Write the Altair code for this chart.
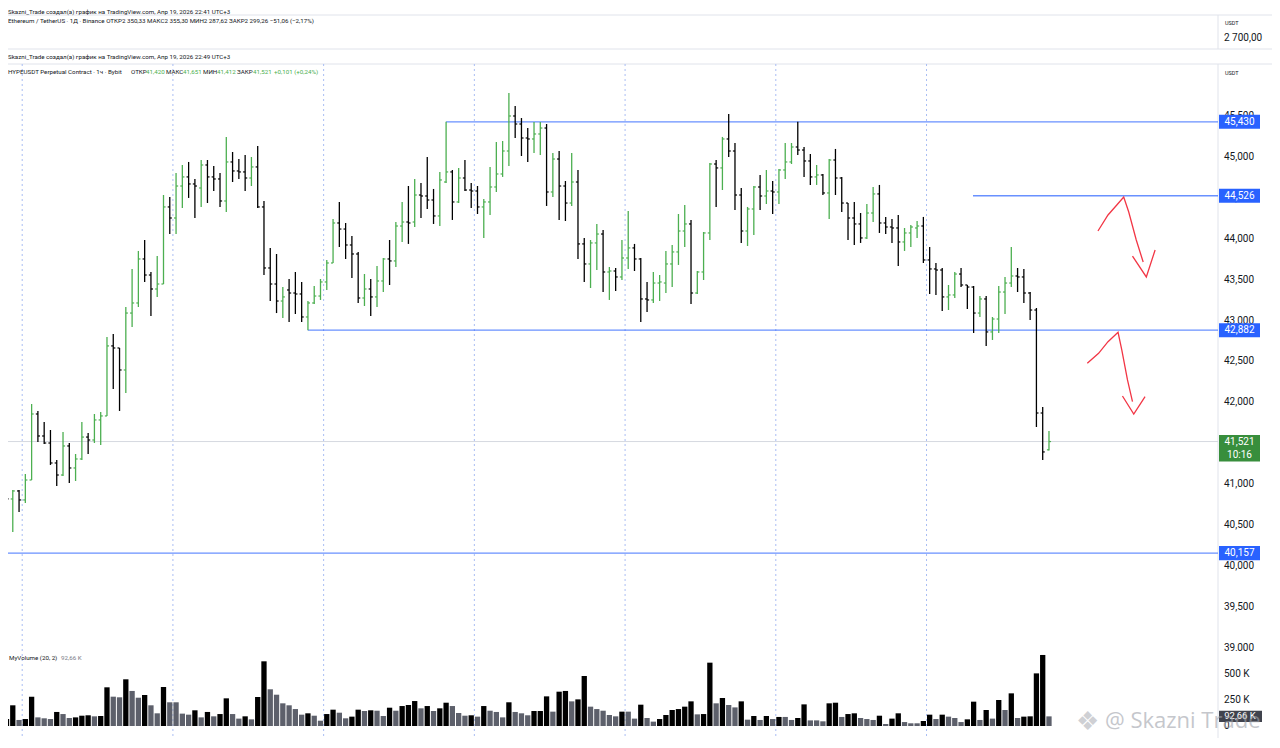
import altair as alt
import pandas as pd

# ---------------- data ----------------
opens = [41.075, 40.819, 40.917, 40.807, 41.051, 41.858, 41.589, 41.503, 41.259, 41.112,
         41.467, 41.198, 41.308, 41.576, 41.540, 41.785, 41.834, 42.690, 42.665, 42.396,
         43.092, 43.215, 43.753, 43.557, 43.386, 43.447, 44.389, 44.254, 44.645, 44.756,
         44.670, 44.621, 44.902, 44.756, 44.731, 44.462, 44.939, 44.829, 44.817, 44.743,
         44.878, 44.389, 43.643, 43.447, 43.239, 43.374, 43.337, 43.325, 43.044, 43.215,
         43.300, 43.472, 43.704, 44.193, 44.119, 43.924, 43.814, 43.276, 43.386, 43.289,
         43.484, 43.753, 43.729, 44.156, 44.205, 44.205, 44.535, 44.523, 44.474, 44.279,
         44.694, 44.817, 44.450, 44.743, 44.596, 44.584, 44.389, 44.450, 44.633, 44.792,
         45.073, 45.501, 45.403, 45.232, 45.220, 45.281, 45.354, 44.572, 44.975, 44.645,
         44.437, 44.694, 43.937, 43.692, 43.949, 44.058, 43.594, 43.606, 43.533, 43.765,
         43.888, 43.753, 43.264, 43.252, 43.459, 43.459, 43.692, 43.839, 44.095, 44.181,
         43.337, 43.594, 44.071, 44.914, 44.866, 45.220, 45.073, 44.535, 44.095, 44.364,
         44.633, 44.523, 44.584, 44.572, 44.841, 44.939, 45.122, 45.085, 44.951, 44.756,
         44.780, 44.560, 44.963, 44.743, 44.437, 44.254, 44.181, 44.010, 44.315, 44.548,
         44.193, 44.144, 44.132, 43.961, 44.071, 44.132, 44.156, 43.741, 43.631, 43.618,
         43.289, 43.313, 43.569, 43.435, 43.410, 43.092, 43.264, 42.861, 43.019, 43.349,
         43.459, 43.545, 43.533, 43.337, 43.129, 41.870, 41.420]
highs = [41.173, 40.929, 40.929, 41.124, 41.980, 41.895, 41.761, 41.662, 41.296, 41.638,
         41.503, 41.369, 41.761, 41.625, 41.858, 41.883, 42.799, 42.836, 42.665, 43.166,
         43.631, 43.851, 43.985, 43.594, 43.790, 44.535, 44.511, 44.804, 44.902, 44.939,
         44.731, 44.963, 44.963, 44.890, 44.804, 45.245, 45.061, 44.975, 45.024, 45.000,
         45.134, 44.462, 43.888, 43.814, 43.410, 43.508, 43.594, 43.472, 43.239, 43.423,
         43.508, 43.741, 44.242, 44.450, 44.193, 44.034, 43.839, 43.569, 43.508, 43.667,
         43.765, 43.985, 44.205, 44.450, 44.645, 44.731, 44.682, 45.000, 44.609, 44.817,
         45.430, 44.841, 44.866, 44.963, 44.682, 44.645, 44.487, 44.878, 45.183, 45.195,
         45.782, 45.623, 45.476, 45.354, 45.427, 45.427, 45.403, 45.049, 45.073, 44.706,
         45.049, 44.841, 44.010, 43.985, 44.181, 44.107, 43.655, 43.643, 43.985, 44.340,
         43.937, 43.765, 43.472, 43.594, 43.557, 43.851, 43.924, 44.303, 44.413, 44.230,
         43.606, 44.083, 44.927, 44.963, 45.245, 45.525, 45.171, 44.621, 44.389, 44.645,
         44.780, 44.841, 44.706, 44.853, 45.171, 45.171, 45.430, 45.122, 45.036, 44.902,
         44.792, 44.975, 45.098, 44.756, 44.437, 44.450, 44.315, 44.425, 44.633, 44.658,
         44.267, 44.242, 44.291, 44.132, 44.168, 44.217, 44.267, 43.900, 43.704, 43.643,
         43.435, 43.594, 43.643, 43.435, 43.423, 43.300, 43.300, 43.044, 43.423, 43.533,
         43.900, 43.643, 43.631, 43.349, 43.154, 41.943, 41.651]
lows = [40.697, 40.416, 40.660, 40.770, 41.051, 41.516, 41.490, 41.235, 40.978, 41.100,
        41.014, 41.039, 41.296, 41.369, 41.503, 41.479, 41.834, 42.164, 41.895, 42.114,
        42.921, 43.166, 43.472, 43.056, 43.289, 43.447, 44.058, 44.058, 44.376, 44.499,
        44.254, 44.389, 44.437, 44.584, 44.389, 44.328, 44.694, 44.731, 44.584, 44.645,
        44.376, 43.557, 43.239, 43.092, 43.031, 42.983, 43.080, 42.983, 42.882, 43.203,
        43.252, 43.374, 43.704, 43.900, 43.753, 43.521, 43.215, 43.178, 43.056, 43.166,
        43.349, 43.435, 43.655, 43.961, 43.937, 44.144, 44.254, 44.364, 44.181, 44.156,
        44.682, 44.230, 44.437, 44.584, 44.376, 44.303, 44.010, 44.291, 44.572, 44.756,
        44.890, 45.232, 45.012, 44.939, 45.049, 45.024, 44.401, 44.511, 44.230, 44.217,
        44.401, 43.753, 43.472, 43.398, 43.618, 43.349, 43.252, 43.362, 43.496, 43.631,
        43.606, 42.983, 43.105, 43.215, 43.239, 43.337, 43.410, 43.680, 43.900, 43.203,
        43.325, 43.496, 43.985, 44.389, 44.596, 45.000, 44.352, 43.949, 43.912, 44.046,
        44.352, 44.425, 44.303, 44.425, 44.731, 44.914, 45.024, 44.756, 44.658, 44.658,
        44.535, 44.242, 44.535, 44.328, 43.985, 43.924, 43.949, 43.998, 44.205, 44.071,
        44.058, 43.949, 43.667, 43.851, 43.900, 44.010, 43.704, 43.325, 43.313, 43.117,
        43.129, 43.276, 43.410, 43.142, 42.848, 43.044, 42.690, 42.763, 42.848, 43.080,
        43.410, 43.349, 43.215, 43.007, 41.699, 41.296, 41.412]
closes = [40.819, 40.917, 40.807, 41.051, 41.858, 41.589, 41.503, 41.259, 41.112, 41.467,
          41.198, 41.308, 41.576, 41.540, 41.785, 41.834, 42.690, 42.665, 42.396, 43.092,
          43.215, 43.753, 43.557, 43.386, 43.447, 44.389, 44.254, 44.645, 44.756, 44.670,
          44.645, 44.902, 44.756, 44.731, 44.462, 44.939, 44.829, 44.817, 44.743, 44.878,
          44.389, 43.643, 43.447, 43.239, 43.289, 43.337, 43.325, 43.044, 43.215, 43.300,
          43.472, 43.704, 44.193, 44.119, 43.924, 43.814, 43.276, 43.386, 43.289, 43.484,
          43.753, 43.729, 44.156, 44.205, 44.193, 44.535, 44.523, 44.474, 44.279, 44.719,
          44.817, 44.450, 44.743, 44.596, 44.584, 44.389, 44.450, 44.633, 44.792, 45.073,
          45.501, 45.403, 45.232, 45.220, 45.281, 45.354, 44.572, 44.975, 44.645, 44.437,
          44.694, 43.937, 43.692, 43.949, 44.058, 43.594, 43.606, 43.533, 43.765, 43.888,
          43.753, 43.264, 43.252, 43.459, 43.472, 43.692, 43.839, 44.095, 44.181, 43.337,
          43.594, 44.071, 44.914, 44.866, 45.220, 45.073, 44.535, 44.095, 44.364, 44.633,
          44.523, 44.584, 44.572, 44.841, 44.939, 45.122, 45.085, 44.951, 44.756, 44.780,
          44.560, 44.963, 44.743, 44.437, 44.254, 44.181, 44.010, 44.315, 44.548, 44.193,
          44.144, 44.132, 43.961, 44.071, 44.144, 44.156, 43.741, 43.631, 43.618, 43.289,
          43.313, 43.569, 43.435, 43.410, 43.092, 43.264, 42.861, 43.019, 43.349, 43.459,
          43.545, 43.533, 43.337, 43.129, 41.870, 41.394, 41.521]
volumes_k = [67, 199, 58, 67, 282, 83, 74, 67, 135, 115,
             77, 83, 99, 103, 93, 96, 372, 282, 276, 449,
             337, 272, 298, 199, 122, 375, 228, 228, 119, 109,
             151, 83, 135, 93, 115, 266, 115, 71, 93, 64,
             279, 622, 353, 301, 218, 199, 163, 109, 122, 99,
             51, 115, 157, 128, 74, 90, 157, 144, 151, 147,
             96, 176, 147, 192, 202, 240, 170, 192, 144, 170,
             224, 192, 125, 99, 103, 90, 192, 147, 135, 83,
             228, 135, 122, 103, 144, 144, 285, 138, 330, 337,
             237, 256, 481, 186, 163, 147, 106, 93, 138, 138,
             71, 205, 77, 42, 67, 106, 154, 163, 186, 237,
             112, 115, 609, 218, 269, 202, 179, 237, 61, 96,
             58, 96, 67, 87, 87, 58, 77, 208, 54, 54,
             45, 218, 224, 87, 115, 122, 77, 67, 58, 99,
             19, 71, 122, 38, 26, 26, 48, 109, 67, 109,
             90, 77, 38, 64, 234, 58, 154, 71, 250, 154,
             314, 77, 90, 93, 506, 683, 92.66]
# k = black (above-average) volume bar, g = grey volume bar
volume_tone = list("kkgkkgggkg" "gkkkgkkggk" "ggkggkgggg" "kgkgkkggkg" "kkggggggkg"
                   "gkkggkkgkg" "gkgkkkgkgk" "kgggkgkggg" "kgggkkkgkk" "gkkgggggkg"
                   "gkggkkkkkk" "gkkgkggkgk" "gkgkggkkgg" "gkkgkkgggk" "gkkgggkkgk"
                   "gggkkgkgkg" "kgkkkkg")

level_prices = [45.430, 44.526, 42.882, 40.157]
level_start_bar = [70.0, 153.9, 48.0, -0.5]
price_ticks = [39.0, 39.5, 40.0, 40.5, 41.0, 41.5, 42.0, 42.5, 43.0, 43.5, 44.0, 44.5, 45.0, 45.5]
volume_ticks = [0, 250, 500]
volume_tick_labels = ["0", "250 K", "500 K"]
session_breaks = [2.5, 26.5, 50.5, 74.5, 98.5, 122.5, 146.5]
last_price = 41.521
last_volume_k = 92.66
countdown = "10:16"

# hand-drawn red arrows (bar index, price)
arrow_stroke = ["a1"] * 7 + ["h1"] * 3 + ["a2"] * 7 + ["h2"] * 3
arrow_bar = [173.8, 175.4, 176.8, 177.9, 178.7, 179.9, 181.0,
             179.3, 181.5, 182.9,
             172.1, 173.9, 175.4, 177.0, 177.6, 178.5, 179.3,
             177.7, 179.5, 181.3]
arrow_price = [44.095, 44.291, 44.413, 44.511, 44.327, 43.985, 43.716,
               43.789, 43.533, 43.863,
               42.478, 42.600, 42.742, 42.857, 42.640, 42.274, 42.008,
               42.078, 41.858, 42.069]

# ---------------- styling / layout ----------------
W, H = 1264, 730
PX_PER_BAR = 6.28
X0 = 0.239
PLOT_R = 1210          # right edge of price pane (price-scale separator)
FONT = "Roboto"
TXT = "#131722"
GREEN = "#4caf50"
DOWN = "#000000"
BLUE = "#2962ff"
VGRAY = "#5d606b"
BORDER = "#e0e3eb"

xs = alt.Scale(domain=[X0, X0 + W / PX_PER_BAR], nice=False, zero=False, padding=0)
ys = alt.Scale(domain=[37.8969, 46.8212], nice=False, zero=False, padding=0)
vs = alt.Scale(domain=[-115.38, 6903.85], nice=False, zero=False, padding=0)


def fmt(v, d=3):
    return f"{v:.{d}f}".replace(".", ",")


n = len(opens)
bars = pd.DataFrame({"bar": list(range(n)), "o": opens, "h": highs, "l": lows, "c": closes})
bars["dir"] = ["up" if c > o else "down" for o, c in zip(opens, closes)]
dir_color = alt.Color("dir:N", scale=alt.Scale(domain=["up", "down"], range=[GREEN, DOWN]), legend=None)

vol = pd.DataFrame({"bar": list(range(n)), "v": volumes_k, "tone": volume_tone})

levels = pd.DataFrame({"p": level_prices, "s": level_start_bar, "lab": [fmt(v) for v in level_prices]})
ticks = pd.DataFrame({"p": price_ticks, "lab": [fmt(v) for v in price_ticks]})
vticks = pd.DataFrame({"v": volume_ticks, "lab": volume_tick_labels})
sessions = pd.DataFrame({"b": session_breaks})
arrows = pd.DataFrame({"seg": arrow_stroke, "bar": arrow_bar, "p": arrow_price,
                       "k": list(range(len(arrow_bar)))})
lastp = pd.DataFrame({"p": [last_price], "lab": [fmt(last_price)], "cd": [countdown]})
lastv = pd.DataFrame({"v": [last_volume_k], "lab": [fmt(last_volume_k, 2) + " K"]})

one = pd.DataFrame({"t": [""]})


def text(s, x, y, size=6.2, color=TXT, align="left", font=FONT, opacity=1.0, weight="normal"):
    return alt.Chart(pd.DataFrame({"t": [s]})).mark_text(
        align=align, baseline="middle", fontSize=size, color=color, font=font,
        opacity=opacity, fontWeight=weight
    ).encode(x=alt.value(x), y=alt.value(y), text="t:N")


def hrule(x1, x2, y, color=BORDER, w=1.0):
    return alt.Chart(one).mark_rule(color=color, strokeWidth=w).encode(
        x=alt.value(x1), x2=alt.value(x2), y=alt.value(y))


def vrule(x, y1, y2, color=BORDER, w=1.0):
    return alt.Chart(one).mark_rule(color=color, strokeWidth=w).encode(
        x=alt.value(x), y=alt.value(y1), y2=alt.value(y2))


layers = []

# pane chrome
layers += [
    hrule(0, W, 7), hrule(0, W, 41), hrule(0, W, 56),
    vrule(PLOT_R, 7, 41), vrule(PLOT_R, 56, H),
]

# session (day) separators
layers.append(alt.Chart(sessions).mark_rule(color="#a9bdf3", strokeDash=[2, 3], strokeWidth=1).encode(
    x=alt.X("b:Q", scale=xs, axis=None), y=alt.value(56), y2=alt.value(H)))

# current price line
layers.append(alt.Chart(lastp).mark_rule(color="#d6d9e0", strokeWidth=1).encode(
    x=alt.value(0), x2=alt.value(PLOT_R), y=alt.Y("p:Q", scale=ys, axis=None)))

# horizontal rays
layers.append(alt.Chart(levels).mark_rule(color=BLUE, strokeWidth=1.3, opacity=0.7).encode(
    x=alt.X("s:Q", scale=xs, axis=None), x2=alt.value(PLOT_R), y=alt.Y("p:Q", scale=ys, axis=None)))

# volume
layers.append(alt.Chart(vol).mark_bar(size=5.3).encode(
    x=alt.X("bar:Q", scale=xs, axis=None),
    y=alt.Y("v:Q", scale=vs, axis=None), y2=alt.datum(0),
    color=alt.Color("tone:N", scale=alt.Scale(domain=["k", "g"], range=["#000000", VGRAY]), legend=None)))

# OHLC bars
layers.append(alt.Chart(bars).mark_rule(strokeWidth=1.3).encode(
    x=alt.X("bar:Q", scale=xs, axis=None), y=alt.Y("l:Q", scale=ys, axis=None), y2="h:Q", color=dir_color))
layers.append(alt.Chart(bars).transform_calculate(bl="datum.bar - 0.33").mark_rule(strokeWidth=1.2).encode(
    x=alt.X("bl:Q", scale=xs, axis=None), x2="bar:Q", y=alt.Y("o:Q", scale=ys, axis=None), color=dir_color))
layers.append(alt.Chart(bars).transform_calculate(br="datum.bar + 0.33").mark_rule(strokeWidth=1.2).encode(
    x=alt.X("bar:Q", scale=xs, axis=None), x2="br:Q", y=alt.Y("c:Q", scale=ys, axis=None), color=dir_color))

# red hand-drawn arrows
layers.append(alt.Chart(arrows).mark_line(color="#f23645", strokeWidth=1.3).encode(
    x=alt.X("bar:Q", scale=xs, axis=None), y=alt.Y("p:Q", scale=ys, axis=None),
    detail="seg:N", order="k:Q"))

# price scale labels
layers.append(alt.Chart(ticks).mark_text(align="left", baseline="middle", fontSize=10, color=TXT, font=FONT).encode(
    x=alt.value(1216), y=alt.Y("p:Q", scale=ys, axis=None), text="lab:N"))
# volume pane hides the bottom of the price scale
layers.append(alt.Chart(one).mark_rect(color="white").encode(
    x=alt.value(PLOT_R + 1), x2=alt.value(W), y=alt.value(643), y2=alt.value(H)))
layers.append(alt.Chart(vticks).mark_text(align="left", baseline="middle", fontSize=10, color=TXT, font=FONT).encode(
    x=alt.value(1216), y=alt.Y("v:Q", scale=vs, axis=None), text="lab:N"))

# level labels on the price scale
layers.append(alt.Chart(levels).transform_calculate(lo="datum.p - 0.0856", hi="datum.p + 0.0856").mark_rect(color=BLUE).encode(
    x=alt.value(PLOT_R + 1), x2=alt.value(1252), y=alt.Y("lo:Q", scale=ys, axis=None), y2="hi:Q"))
layers.append(alt.Chart(levels).mark_text(align="center", baseline="middle", fontSize=10, color="white", font=FONT).encode(
    x=alt.value(1231.5), y=alt.Y("p:Q", scale=ys, axis=None), text="lab:N"))

# last price label with countdown
layers.append(alt.Chart(lastp).transform_calculate(lo="datum.p - 0.245", hi="datum.p + 0.08").mark_rect(color="#388e3c").encode(
    x=alt.value(PLOT_R + 1), x2=alt.value(1252), y=alt.Y("lo:Q", scale=ys, axis=None), y2="hi:Q"))
layers.append(alt.Chart(lastp).mark_text(align="center", baseline="middle", fontSize=10, color="white", font=FONT).encode(
    x=alt.value(1231.5), y=alt.Y("p:Q", scale=ys, axis=None), text="lab:N"))
layers.append(alt.Chart(lastp).mark_text(align="center", baseline="middle", fontSize=10, color="white", font=FONT, dy=13).encode(
    x=alt.value(1231.5), y=alt.Y("p:Q", scale=ys, axis=None), text="cd:N"))

# last volume label
layers.append(alt.Chart(lastv).transform_calculate(lo="datum.v - 55", hi="datum.v + 55").mark_rect(color="#40434d").encode(
    x=alt.value(PLOT_R + 1), x2=alt.value(1254), y=alt.Y("lo:Q", scale=vs, axis=None), y2="hi:Q"))
layers.append(alt.Chart(lastv).mark_text(align="center", baseline="middle", fontSize=9.5, color="white", font=FONT).encode(
    x=alt.value(1232), y=alt.Y("v:Q", scale=vs, axis=None), text="lab:N"))

# header texts
layers += [
    text("Skazni_Trade создал(а) график на TradingView.com, Апр 19, 2026 22:41 UTC+3", 0, 3.5),
    text("Ethereum / TetherUS · 1Д · Binance  ОТКР2 350,33  МАКС2 355,30  МИН2 287,62  ЗАКР2 299,26  −51,06 (−2,17%)", 0, 13),
    text("USDT", 1217, 15, size=5.5),
    text("2 700,00", 1216, 30, size=10),
    text("Skazni_Trade создал(а) график на TradingView.com, Апр 19, 2026 22:49 UTC+3", 0, 49),
    text("HYPEUSDT Perpetual Contract · 1ч · Bybit", 0, 64),
    text("ОТКР", 123, 64), text("41,420", 138, 64, color=GREEN),
    text("МАКС", 158, 64), text("41,651", 175, 64, color=GREEN),
    text("МИН", 195, 64), text("41,412", 209, 64, color=GREEN),
    text("ЗАКР", 229, 64), text("41,521", 245, 64, color=GREEN),
    text("+0,101 (+0,24%)", 266, 64, color=GREEN),
    text("USDT", 1217, 65, size=5.5),
    text("MyVolume (20, 2)", 1, 650),
    text("92,66 K", 53, 650, color="#787b86"),
]

# watermark
layers += [
    text("❖", 1068, 714, size=26, color="#a0a3ab", font="DejaVu Sans", opacity=0.5),
    text("@ Skazni Trade", 1097, 713, size=22, color="#a0a3ab", font="Open Sans", opacity=0.6),
]

chart = alt.layer(*layers).resolve_scale(y="independent", color="independent").properties(
    width=W, height=H, padding=0, autosize=alt.AutoSizeParams(type="none"), background="white"
).configure_view(stroke=None)

chart.save("out.html", embed_options={"renderer": "svg", "actions": False})
